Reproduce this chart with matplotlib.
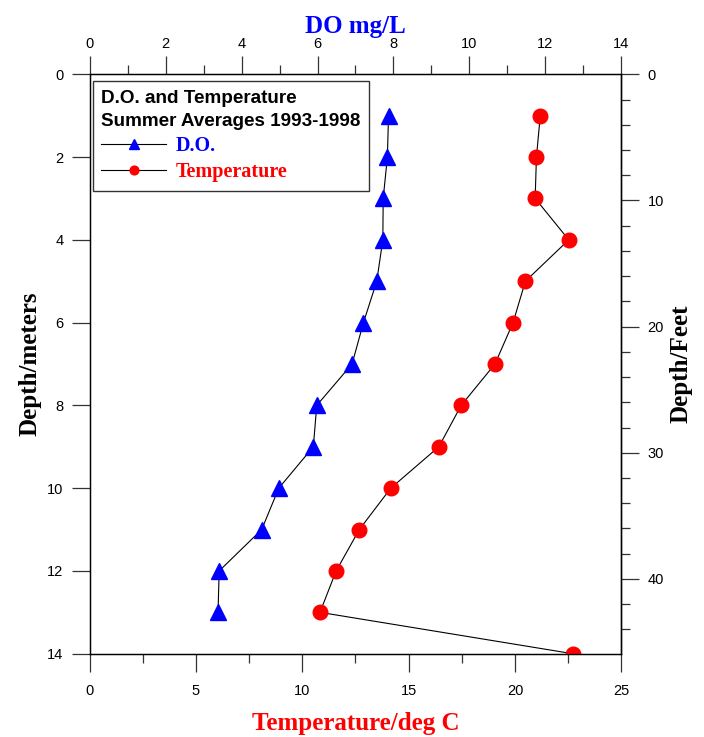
import matplotlib
matplotlib.use("Agg")
import matplotlib.pyplot as plt
from matplotlib.ticker import MultipleLocator

# summer averages 1993-1998
depth_do = [1, 2, 3, 4, 5, 6, 7, 8, 9, 10, 11, 12, 13]
do_mgl = [7.87, 7.84, 7.73, 7.72, 7.56, 7.21, 6.91, 5.98, 5.89, 4.98, 4.53, 3.41, 3.38]

depth_temp = [1, 2, 3, 4, 5, 6, 7, 8, 9, 10, 11, 12, 13, 14]
temp_c = [21.19, 21.01, 20.95, 22.53, 20.49, 19.91, 19.06, 17.47, 16.42, 14.16, 12.68, 11.59, 10.83, 22.72]

M_PER_FT = 0.3048

plt.rcParams['font.family'] = ['Liberation Sans', 'DejaVu Sans']
plt.rcParams['font.size'] = 10

fig = plt.figure(figsize=(7.04, 7.37), dpi=100)
ax = fig.add_axes([0.1274, 0.1130, 0.7551, 0.7862])
ax_do = ax.twiny()

ax.plot(temp_c, depth_temp, color='black', lw=0.8, marker='o', ms=10.5,
        mfc='red', mec='red', label='Temperature', zorder=3)
ax_do.plot(do_mgl, depth_do, color='black', lw=0.8, marker='^', ms=11,
           mfc='blue', mec='blue', label='D.O.', zorder=3)

ax.set_xlim(0, 25)
ax.set_ylim(14, 0)
ax_do.set_xlim(0, 14)

ax.xaxis.set_major_locator(MultipleLocator(5))
ax.xaxis.set_minor_locator(MultipleLocator(2.5))
ax.yaxis.set_major_locator(MultipleLocator(2))
ax_do.xaxis.set_major_locator(MultipleLocator(2))
ax_do.xaxis.set_minor_locator(MultipleLocator(1))

ax_ft = ax.secondary_yaxis('right', functions=(lambda m: m / M_PER_FT, lambda f: f * M_PER_FT))
ax_ft.yaxis.set_major_locator(MultipleLocator(10))
ax_ft.yaxis.set_minor_locator(MultipleLocator(2))

for a in (ax, ax_do, ax_ft):
    a.tick_params(which='major', direction='out', length=13, width=0.9, color='#333333', labelsize=10.5, pad=6)
    a.tick_params(which='minor', direction='out', length=6.5, width=0.9, color='#333333')
    for s in a.spines.values():
        s.set_linewidth(0.9)
ax.tick_params(axis='x', which='major', pad=9)
ax_do.tick_params(axis='x', which='major', pad=4)

serif_bold = dict(family='Liberation Serif', weight='bold', size=18)
ax.set_xlabel('Temperature/deg C', color='red', labelpad=10, **serif_bold)
ax.set_ylabel('Depth/meters', color='black', labelpad=4, **serif_bold)
ax_do.set_xlabel('DO mg/L', color='blue', labelpad=3, **serif_bold)
ax_ft.set_ylabel('Depth/Feet', color='black', labelpad=4, **serif_bold)

h1, l1 = ax_do.get_legend_handles_labels()
h2, l2 = ax.get_legend_handles_labels()
leg = ax_do.legend(h1 + h2, l1 + l2, loc='upper left', bbox_to_anchor=(0.006, 0.988),
                   borderaxespad=0, fancybox=False, framealpha=1, edgecolor='#333333',
                   title='D.O. and Temperature\nSummer Averages 1993-1998',
                   title_fontproperties=dict(family='Liberation Sans', weight='bold', size=13.6),
                   prop=dict(family='Liberation Serif', weight='bold', size=14.5),
                   alignment='left', handlelength=3.2, handletextpad=0.5,
                   labelspacing=0.3, borderpad=0.42, markerscale=0.6)
leg.get_title().set_linespacing(1.5)
leg.get_frame().set_linewidth(1.0)
leg.set_zorder(10)
for txt, col in zip(leg.get_texts(), ['blue', 'red']):
    txt.set_color(col)

fig.savefig('out.png', dpi=100)
